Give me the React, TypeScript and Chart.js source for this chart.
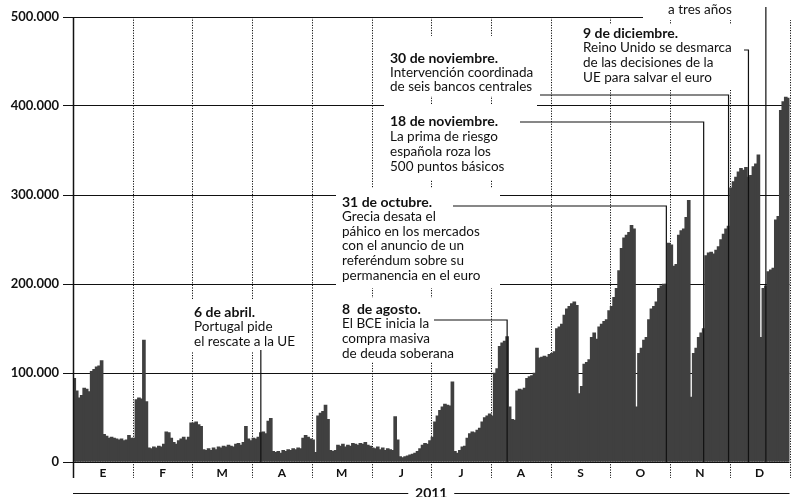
import React, { useEffect, useRef } from 'react';
import { Chart, registerables } from 'chart.js';

Chart.register(...registerables);

// ---- DATA (miles de millones de euros -> valores en el eje: x1000) ----
const monthLabels = ['E', 'F', 'M', 'A', 'M', 'J', 'J', 'A', 'S', 'O', 'N', 'D'];
const yearLabel = '2011';
const yTickValues = [0, 100000, 200000, 300000, 400000, 500000];
const barsPerMonth = 24;

const ene = [94, 80, 72, 75, 83, 82, 79, 102, 104, 107, 108, 114, 31, 29, 27, 28, 27, 26, 25, 26, 24, 25, 30, 27];
const feb = [27, 70, 72, 71, 137, 68, 16, 15, 17, 16, 18, 17, 20, 34, 33, 27, 22, 20, 24, 26, 28, 25, 28, 44];
const mar = [44, 45, 42, 40, 14, 13, 15, 13, 16, 14, 17, 16, 18, 17, 19, 18, 17, 20, 21, 19, 22, 40, 26, 24];
const abr = [27, 26, 28, 33, 34, 32, 46, 49, 12, 11, 12, 10, 13, 12, 14, 13, 15, 14, 16, 15, 27, 30, 28, 26];
const may = [25, 11, 52, 55, 57, 64, 48, 13, 12, 13, 19, 18, 20, 17, 19, 18, 21, 20, 19, 21, 20, 22, 19, 18];
const jun = [16, 15, 17, 14, 16, 13, 15, 14, 13, 51, 25, 6, 5, 6, 7, 8, 9, 10, 12, 15, 19, 21, 20, 24];
const jul = [28, 45, 52, 58, 62, 65, 64, 63, 90, 12, 10, 13, 17, 18, 27, 32, 34, 33, 36, 38, 45, 50, 52, 54];
const ago = [52, 100, 105, 130, 134, 136, 141, 62, 48, 47, 80, 82, 81, 83, 94, 96, 97, 100, 128, 117, 118, 119, 118, 121];
const sep = [122, 124, 150, 152, 155, 165, 172, 175, 178, 180, 176, 77, 85, 110, 112, 115, 140, 145, 138, 152, 155, 158, 160, 170];
const oct = [175, 185, 195, 215, 240, 252, 255, 258, 266, 262, 62, 122, 128, 137, 140, 160, 172, 175, 180, 195, 198, 200, 200, 246];
const nov = [244, 220, 222, 255, 260, 262, 275, 294, 73, 122, 128, 140, 145, 150, 232, 235, 236, 234, 238, 242, 250, 256, 262, 265];
const dic = [308, 315, 320, 326, 330, 328, 331, 320, 322, 332, 335, 345, 140, 195, 198, 214, 216, 218, 272, 276, 395, 405, 410, 409];

const dailyValues = [ene, feb, mar, abr, may, jun, jul, ago, sep, oct, nov, dic].flat().map((v) => v * 1000);
const dayLabels = dailyValues.map((_, i) => String(i));

// annotation texts and the bar (month, bar-in-month) each one points to
const notes = [
  { head: '6 de abril.', body: ['Portugal pide', 'el rescate a la UE'], month: 3, bar: 3 },
  { head: '8  de agosto.', body: ['El BCE inicia la', 'compra masiva', 'de deuda soberana'], month: 7, bar: 6 },
  { head: '31 de octubre.', body: ['Grecia desata el', 'páhico en los mercados', 'con el anuncio de un', 'referéndum sobre su', 'permanencia en el euro'], month: 9, bar: 22 },
  { head: '18 de noviembre.', body: ['La prima de riesgo', 'española roza los', '500 puntos básicos'], month: 10, bar: 13 },
  { head: '30 de noviembre.', body: ['Intervención coordinada', 'de seis bancos centrales'], month: 10, bar: 23 },
  { head: '9 de diciembre.', body: ['Reino Unido se desmarca', 'de las decisiones de la', 'UE para salvar el euro'], month: 11, bar: 7 },
  { head: '', body: ['a tres años'], month: 11, bar: 14 },
];

// ---- LAYOUT for annotations (pixels) ----
const noteLayout = [
  { tx: 194, ty: 312, lh: 15, box: [188, 300, 124, 52], leaderY: 350, leaderFromX: null },
  { tx: 342, ty: 309, lh: 15, box: [336, 298, 110, 64], leaderY: 320, leaderFromX: 434 },
  { tx: 342, ty: 202, lh: 14.7, box: [336, 188, 164, 100], leaderY: 206, leaderFromX: 453 },
  { tx: 390, ty: 121, lh: 15.3, box: [384, 104, 153, 76], leaderY: 122, leaderFromX: 520 },
  { tx: 390, ty: 58, lh: 14.5, box: [384, 36, 156, 60], leaderY: 95, leaderFromX: 540 },
  { tx: 583, ty: 33, lh: 15, box: [578, 24, 165, 66], leaderY: 50, leaderFromX: 744 },
  { tx: 668, ty: 10, lh: 15, box: [643, 0, 155, 20], leaderY: 7, leaderFromX: null },
];

const FAMILY = 'Lato, "Open Sans", "DejaVu Sans", sans-serif';
const INK = '#111';

const fmt = (v: number) => String(v).replace(/\B(?=(\d{3})+(?!\d))/g, '.');

const overlayPlugin = {
  id: 'overlay',
  beforeDatasetsDraw(chart: any) {
    const { ctx, chartArea: a } = chart;
    ctx.save();
    const mw = (a.right - a.left) / 12;
    ctx.strokeStyle = INK;
    ctx.lineWidth = 1;
    ctx.setLineDash([1.2, 1.4]);
    for (let m = 1; m <= 12; m++) {
      const px = Math.round(a.left + m * mw) + 0.5;
      ctx.beginPath();
      ctx.moveTo(px, a.top);
      ctx.lineTo(px, a.bottom + 16);
      ctx.stroke();
    }
    ctx.setLineDash([]);
    ctx.fillStyle = '#fff';
    for (const l of noteLayout) ctx.fillRect(l.box[0], l.box[1], l.box[2], l.box[3]);
    ctx.restore();
  },
  afterDatasetsDraw(chart: any) {
    const { ctx, chartArea: a, scales } = chart;
    const xs = scales.x;
    ctx.save();
    // y axis line
    ctx.strokeStyle = INK;
    ctx.lineWidth = 1.5;
    ctx.beginPath();
    ctx.moveTo(a.left + 0.5, a.top);
    ctx.lineTo(a.left + 0.5, a.bottom + 16);
    ctx.stroke();

    // leaders
    ctx.lineWidth = 1.2;
    notes.forEach((n, i) => {
      const l = noteLayout[i];
      const lx = xs.getPixelForValue(n.month * barsPerMonth + n.bar);
      ctx.beginPath();
      if (l.leaderFromX !== null) {
        ctx.moveTo(l.leaderFromX, l.leaderY);
        ctx.lineTo(lx, l.leaderY);
      } else {
        ctx.moveTo(lx, l.leaderY);
      }
      ctx.lineTo(lx, a.bottom);
      ctx.stroke();
    });

    // texts
    ctx.fillStyle = INK;
    ctx.textAlign = 'left';
    ctx.textBaseline = 'middle';
    notes.forEach((n, i) => {
      const l = noteLayout[i];
      let y = l.ty;
      if (n.head) {
        ctx.font = `bold 14px ${FAMILY}`;
        ctx.fillText(n.head, l.tx, y);
        y += l.lh;
      }
      ctx.font = `13.5px ${FAMILY}`;
      for (const line of n.body) {
        ctx.fillText(line, l.tx, y);
        y += l.lh;
      }
    });

    // month labels
    const mw = (a.right - a.left) / 12;
    ctx.font = `bold 12px ${FAMILY}`;
    ctx.textAlign = 'center';
    monthLabels.forEach((m, i) => {
      ctx.fillText(m, a.left + (i + 0.5) * mw, a.bottom + 11);
    });

    // year line
    const cx = (a.left + a.right) / 2;
    const yy = a.bottom + 31;
    ctx.font = `bold 14px ${FAMILY}`;
    ctx.fillText(yearLabel, cx, yy);
    ctx.lineWidth = 1.2;
    ctx.beginPath();
    ctx.moveTo(a.left, yy + 0.5);
    ctx.lineTo(cx - 23, yy + 0.5);
    ctx.moveTo(cx + 23, yy + 0.5);
    ctx.lineTo(a.right, yy + 0.5);
    ctx.stroke();
    ctx.restore();
  },
};

export default function App() {
  const ref = useRef<HTMLCanvasElement | null>(null);
  useEffect(() => {
    if (!ref.current) return;
    const chart = new Chart(ref.current, {
      type: 'bar',
      data: {
        labels: dayLabels,
        datasets: [
          {
            data: dailyValues,
            backgroundColor: '#404040',
            borderWidth: 0,
            barThickness: 3,
            grouped: false,
          },
        ],
      },
      options: {
        responsive: false,
        animation: false,
        devicePixelRatio: 1,
        layout: { padding: { top: 17, right: 8.5, bottom: 35, left: 0 } },
        plugins: { legend: { display: false }, tooltip: { enabled: false } },
        scales: {
          x: { display: false },
          y: {
            min: 0,
            max: 500000,
            afterFit: (s: any) => {
              s.width = 73;
            },
            afterBuildTicks: (s: any) => {
              s.ticks = yTickValues.map((v) => ({ value: v }));
            },
            ticks: {
              callback: (v: any) => fmt(Number(v)),
              font: { family: FAMILY, size: 13, weight: 'bold' },
              color: INK,
              padding: 4,
            },
            grid: { color: INK, lineWidth: 1, tickLength: 10, drawTicks: true },
            border: { display: false },
          },
        },
      } as any,
      plugins: [overlayPlugin],
    });
    return () => chart.destroy();
  }, []);
  return (
    <div style={{ position: 'absolute', left: 0, top: 0, width: 798, height: 497, background: '#fff' }}>
      <canvas ref={ref} width={798} height={497} style={{ display: 'block' }} />
    </div>
  );
}
